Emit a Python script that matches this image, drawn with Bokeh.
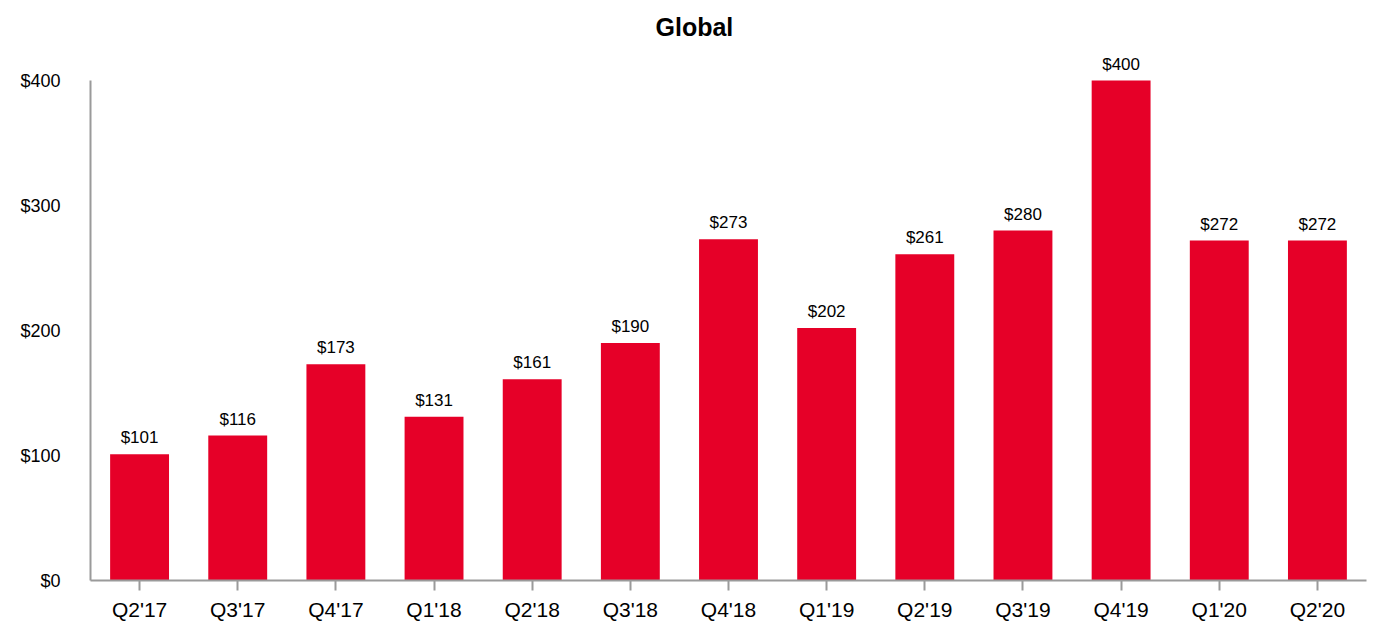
from bokeh.plotting import figure
from bokeh.models import FactorRange, Range1d, FixedTicker, PrintfTickFormatter, ColumnDataSource, LabelSet
from bokeh.core.properties import value
from bokeh.embed import file_html
from bokeh.resources import INLINE

quarters = ["Q2'17", "Q3'17", "Q4'17", "Q1'18", "Q2'18", "Q3'18", "Q4'18",
            "Q1'19", "Q2'19", "Q3'19", "Q4'19", "Q1'20", "Q2'20"]
values = [101, 116, 173, 131, 161, 190, 273, 202, 261, 280, 400, 272, 272]
labels = ["$%d" % v for v in values]
y_ticks = [0, 100, 200, 300, 400]

FONT = "Liberation Sans"
RED = "#E60028"
AXIS = "#9a9a9a"

src = ColumnDataSource(dict(q=quarters, v=values, lab=labels))

p = figure(width=1370, height=624, output_backend="svg", toolbar_location=None,
           x_range=FactorRange(factors=quarters), y_range=Range1d(0, 424),
           min_border_left=90, min_border_right=4, min_border_top=50, min_border_bottom=44,
           title="Global")
p.outline_line_color = None
p.xgrid.grid_line_color = None
p.ygrid.grid_line_color = None

p.title.align = "left"
p.title.offset = 565
p.title.text_font = FONT
p.title.text_font_size = "25px"
p.title.text_font_style = "bold"
p.title.text_color = "black"
p.title.standoff = 20

p.vbar(x="q", top="v", width=0.6, source=src, fill_color=RED, line_color=None)

ls = LabelSet(x="q", y="v", text="lab", source=src, text_align="center",
              text_baseline="alphabetic", y_offset=11, text_font=value(FONT),
              text_font_size=value("17px"), text_color="black")
p.add_layout(ls)

p.yaxis.bounds = (0, 400)
p.yaxis.ticker = FixedTicker(ticks=y_ticks)
p.yaxis.formatter = PrintfTickFormatter(format="$%d")
p.yaxis.major_tick_out = 0
p.yaxis.major_tick_in = 0
p.yaxis.minor_tick_line_color = None
p.yaxis.major_label_standoff = 30
p.yaxis.major_label_text_font = FONT
p.yaxis.major_label_text_font_size = "18px"
p.yaxis.major_label_text_color = "black"
p.yaxis.axis_line_color = AXIS
p.yaxis.axis_line_width = 2

p.xaxis.major_tick_out = 10
p.xaxis.major_tick_in = 0
p.xaxis.major_tick_line_color = AXIS
p.xaxis.major_tick_line_width = 2
p.xaxis.major_label_standoff = 7
p.xaxis.major_label_text_font = FONT
p.xaxis.major_label_text_font_size = "21px"
p.xaxis.major_label_text_color = "black"
p.xaxis.axis_line_color = AXIS
p.xaxis.axis_line_width = 2

open("out.html", "w").write(file_html(p, INLINE))
